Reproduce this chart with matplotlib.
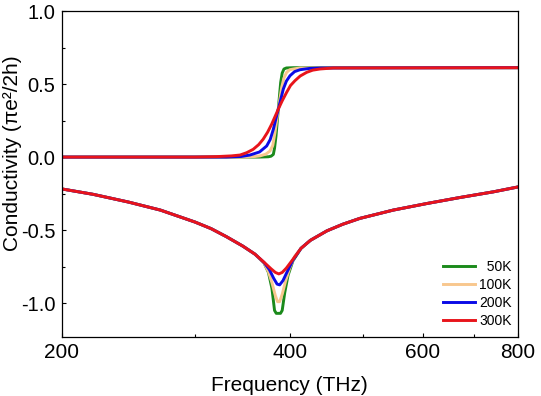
import numpy as np
import matplotlib
matplotlib.use("Agg")
import matplotlib.pyplot as plt
from matplotlib.ticker import FixedLocator, FixedFormatter, MultipleLocator, NullFormatter

plt.rcParams["font.family"] = ["Liberation Sans", "DejaVu Sans"]
plt.rcParams["axes.unicode_minus"] = False

# ----------------------
# data (frequency in THz, conductivity in pi e^2 / 2h)
# ----------------------
labels = ["  50K", "100K", "200K", "300K"]
colors = ["#1b8a1b", "#f8c78e", "#0a0ae6", "#e8141b"]

# real part: step near 387 THz
re_f_50 = [200, 365, 374.9, 378, 380.6, 382, 383.7, 386.4, 389.2, 391, 393.1, 396, 404.5, 800]
re_v_50 = [0, 0, 0.002, 0.006, 0.018, 0.06, 0.144, 0.328, 0.511, 0.575, 0.603, 0.61, 0.612, 0.612]
re_f_100 = [200, 350, 360, 365.5, 372, 376.7, 380, 382.5, 386.4, 390.4, 393, 396.3, 400, 404.5, 412.8, 800]
re_v_100 = [0, 0, 0.004, 0.008, 0.02, 0.041, 0.08, 0.167, 0.328, 0.477, 0.54, 0.58, 0.598, 0.603, 0.61, 0.612]
re_f_200 = [200, 330, 345, 354.5, 365, 373, 377, 380.6, 383.5, 386.4, 389.5, 392.3, 396, 400.4, 406, 412.8, 425, 440, 800]
re_v_200 = [0, 0, 0.004, 0.014, 0.035, 0.076, 0.12, 0.19, 0.26, 0.328, 0.40, 0.465, 0.52, 0.557, 0.585, 0.598, 0.607, 0.61, 0.612]
re_f_300 = [200, 300, 320, 335, 344, 351, 358, 364, 369, 374, 378.7, 386.4, 391, 396.3, 401, 406.5, 413, 421.2, 429, 438.6, 456.7, 800]
re_v_300 = [0, 0, 0.003, 0.008, 0.014, 0.03, 0.053, 0.085, 0.122, 0.17, 0.225, 0.328, 0.385, 0.443, 0.49, 0.523, 0.555, 0.58, 0.595, 0.603, 0.61, 0.612]

# imaginary part: shared wings, temperature dependent dip
im_f_left = [200, 220, 245, 270, 300, 315, 330, 347, 360]
im_v_left = [-0.218, -0.255, -0.308, -0.363, -0.445, -0.49, -0.545, -0.61, -0.665]
im_f_right = [426, 448, 470, 495, 548, 607, 671, 743, 800]
im_v_right = [-0.57, -0.505, -0.46, -0.42, -0.363, -0.318, -0.277, -0.238, -0.205]

dip_f_50 = [370, 375, 379, 382, 384, 389, 391, 394, 398, 404, 414]
dip_v_50 = [-0.725, -0.79, -0.90, -1.05, -1.07, -1.07, -1.05, -0.93, -0.81, -0.71, -0.625]
dip_f_100 = [370, 375, 379, 383, 385.5, 388, 391, 395, 400, 406, 414]
dip_v_100 = [-0.725, -0.785, -0.86, -0.95, -0.99, -0.99, -0.94, -0.85, -0.76, -0.68, -0.625]
dip_f_200 = [370, 376, 381, 385, 388, 392, 397, 404, 414]
dip_v_200 = [-0.722, -0.77, -0.83, -0.87, -0.875, -0.845, -0.785, -0.705, -0.625]
dip_f_300 = [370, 378, 383, 387, 391, 396, 404, 414]
dip_v_300 = [-0.72, -0.765, -0.79, -0.80, -0.79, -0.76, -0.70, -0.625]

re_f = [re_f_50, re_f_100, re_f_200, re_f_300]
re_v = [re_v_50, re_v_100, re_v_200, re_v_300]
dip_f = [dip_f_50, dip_f_100, dip_f_200, dip_f_300]
dip_v = [dip_v_50, dip_v_100, dip_v_200, dip_v_300]

# ----------------------
# plot
# ----------------------
fig = plt.figure(figsize=(5.41, 3.96), dpi=100)
ax = fig.add_axes([0.114, 0.1497, 0.8429, 0.8225])

for i in range(4):
    ax.plot(re_f[i], re_v[i], color=colors[i], lw=2.1, label=labels[i])
    f_im = im_f_left + dip_f[i] + im_f_right
    v_im = im_v_left + dip_v[i] + im_v_right
    ax.plot(f_im, v_im, color=colors[i], lw=2.1)

ax.set_xscale("log")
ax.set_xlim(200, 800)
ax.set_ylim(-1.23, 1.0)
ax.xaxis.set_major_locator(FixedLocator([200, 400, 600, 800]))
ax.xaxis.set_major_formatter(FixedFormatter(["200", "400", "600", "800"]))
ax.xaxis.set_minor_locator(FixedLocator([300, 500, 700]))
ax.xaxis.set_minor_formatter(NullFormatter())
ax.yaxis.set_major_locator(MultipleLocator(0.5))
ax.yaxis.set_minor_locator(MultipleLocator(0.25))
ax.yaxis.set_major_formatter(plt.FormatStrFormatter("%.1f"))

ax.tick_params(which="both", direction="in", width=0.8, pad=4.5)
ax.tick_params(which="major", length=3.2)
ax.tick_params(which="minor", length=2.2)
ax.tick_params(axis="x", labelsize=15)
ax.tick_params(axis="y", labelsize=14.5)
for s in ax.spines.values():
    s.set_linewidth(0.9)

ax.set_xlabel("Frequency (THz)", fontsize=15)
ax.xaxis.set_label_coords(0.5, -0.121)
ax.set_ylabel("Conductivity (πe²/2h)", fontsize=15)
ax.yaxis.set_label_coords(-0.088, 0.564)

leg = ax.legend(loc="upper left", bbox_to_anchor=(443 / 541, 1 - 260 / 396),
                bbox_transform=fig.transFigure, frameon=False, fontsize=10,
                handlelength=2.3, handletextpad=0.3, labelspacing=0.28,
                borderpad=0, borderaxespad=0)

fig.savefig("out.png", dpi=100)
